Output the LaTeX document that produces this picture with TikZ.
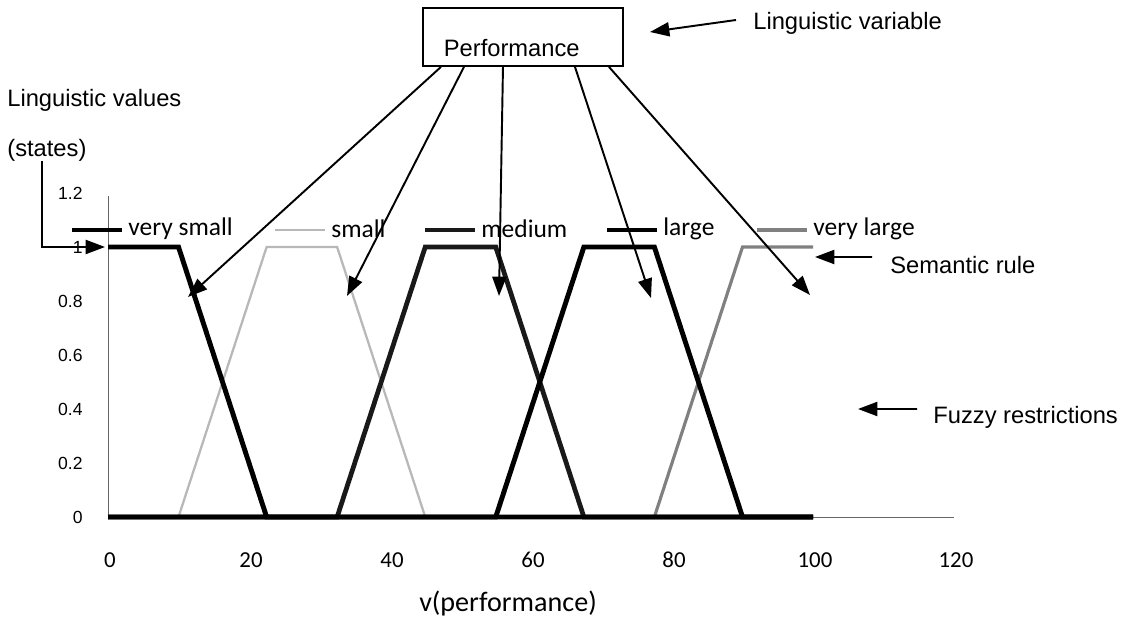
\documentclass[tikz,border=0pt]{standalone}
\usepackage{fontspec}
\setmainfont{Liberation Sans}
\newfontfamily\chartfont{Carlito}
\usetikzlibrary{arrows.meta}

\begin{document}
\begin{tikzpicture}[x=0.02cm, y=0.02cm,
    arr/.style={-{Triangle[length=11pt,width=8pt]}, line width=1.1pt},
    note/.style={font=\fontsize{13.5}{16}\selectfont, inner sep=0pt, anchor=west},
    legend/.style={font=\chartfont\fontsize{14.5}{17}\selectfont, inner sep=0pt, anchor=west},
    vsmall/.style={line width=2.8pt, black},
    small/.style={line width=1.3pt, black!28},
    medium/.style={line width=2.7pt, black!90},
    large/.style={line width=2.8pt, black},
    vlarge/.style={line width=1.8pt, black!50}]
    \useasboundingbox (0,0) rectangle (1133,636);

    \node (perf) [draw, line width=1pt, inner xsep=0.42cm, inner ysep=0pt, text width=3.16cm,
        text height=0.97cm, text depth=0.19cm, anchor=base west, font=\fontsize{13.5}{16}\selectfont]
        at (422,579.5) {Performance};
    \node (lvar) [note] at (753,613) {Linguistic variable};
    \node (lval) [note] at (7,536) {Linguistic values};
    \node (states) [note] at (7,486) {(states)};
    \node (srule) [note] at (890,371) {Semantic rule};
    \node (fuzzy) [note] at (933,219) {Fuzzy restrictions};

    \begin{scope}[shift={(108,119)}, xscale=7.05, yscale=270]
    \draw[black!60, line width=0.5pt] (0,1.19) -- (0,0) -- (120,0);
    \draw[small] (0,0) -- (10,0) -- (22.5,1) -- (32.5,1) -- (45,0) -- (100,0);
    \draw[vlarge] (0,0) -- (77.5,0) -- (90,1) -- (100,1);
    \draw[medium] (0,0) -- (32.5,0) -- (45,1) -- (55,1) -- (67.5,0) -- (100,0);
    \draw[large] (0,0) -- (55,0) -- (67.5,1) -- (77.5,1) -- (90,0) -- (100,0);
    \draw[vsmall] (0,1) -- (10,1) -- (22.5,0) -- (100,0);
    \end{scope}

    \foreach \v [count=\i] in {0,0.2,0.4,0.6,0.8,1,1.2}
        \node (ytick\i) [anchor=east, inner sep=0pt, font=\fontsize{10}{12}\selectfont] at (83,119+270*\v) {\v};
    \foreach \v [count=\i] in {0,20,...,120}
        \node (xtick\i) [font=\chartfont\fontsize{13}{15}\selectfont] at (110+7.05*\v,76) {\v};
    \node (vperf) [font=\chartfont\fontsize{16}{19}\selectfont] at (508,33) {v(performance)};

    \foreach \st/\x/\lab in {vsmall/72/very small, small/275/small, medium/425/medium, large/607/large, vlarge/757/very large} {
        \draw[\st] (\x,406) -- ++(50,0);
        \node (lg\st) [legend] at (\x+56,407) {\lab};
    }

    \coordinate (tvs) at (188,339);
    \coordinate (ts) at (347,340);
    \coordinate (tm) at (499,340);
    \coordinate (tl) at (651,338);
    \coordinate (tvl) at (810,341);
    \draw[arr] ([xshift=0.38cm]perf.south west) -- (tvs);
    \draw[arr] ([xshift=0.84cm]perf.south west) -- (ts);
    \draw[arr] ([xshift=1.62cm]perf.south west) -- (tm);
    \draw[arr] ([xshift=3.06cm]perf.south west) -- (tl);
    \draw[arr] ([xshift=3.74cm]perf.south west) -- (tvl);

    \coordinate (lvtip) at (650,604);
    \coordinate (srtip) at (815,379);
    \coordinate (fztip) at (858,227);
    \coordinate (ytip) at (105,389);
    \draw[arr] ([xshift=-0.34cm,yshift=0.06cm]lvar.west) -- (lvtip);
    \draw[arr] ([xshift=-0.36cm,yshift=0.16cm]srule.west) -- (srtip);
    \draw[arr] ([xshift=-0.32cm,yshift=0.16cm]fuzzy.west) -- (fztip);
    \draw[arr] ([xshift=0.7cm]states.south west) |- (ytip);
\end{tikzpicture}
\end{document}
